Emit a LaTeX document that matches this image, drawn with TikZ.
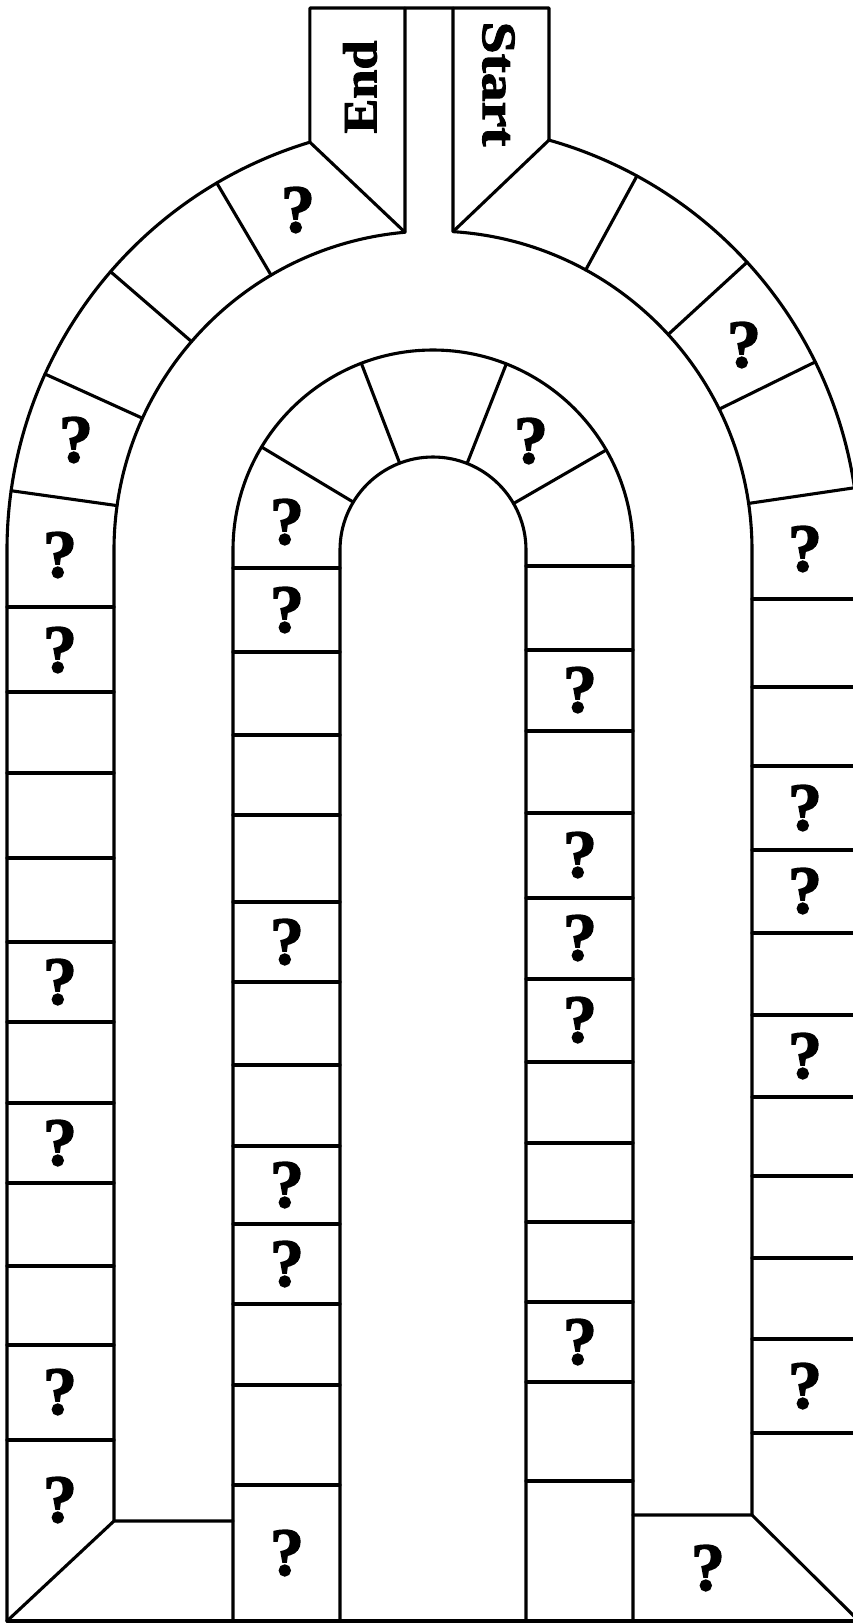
\documentclass[tikz,border=0pt]{standalone}
\usepackage{fontspec}
\setmainfont{Liberation Serif}
\newfontfamily\heavyfont{Liberation Serif}[BoldFeatures={FakeBold=2}]
\usepackage{graphicx}
\usetikzlibrary{calc}
\begin{document}
\begin{tikzpicture}[x=1pt,y=1pt,
  line/.style={line width=3.1pt, line join=round, line cap=round},
  qm/.style={font=\heavyfont\fontsize{68}{68}\selectfont\bfseries, inner sep=0pt},
  tabtext/.style={font=\heavyfont\fontsize{48}{48}\selectfont\bfseries, inner sep=0pt}]
\useasboundingbox (0,0) rectangle (853,-1623);
\fill[white] (0,0) rectangle (853,-1623);
\clip (0,0) rectangle (853,-1623);
\coordinate (C) at (433,-550);

% outer ring: outer boundary with the two tabs
\draw[line] (7,-1621) -- (7,-550) arc[start angle=180,end angle=106.8,radius=426]
  coordinate (EL) -- (309.9,-8) -- (549,-8) -- (549,-140.1) coordinate (SR)
  arc[start angle=74.2,end angle=0,radius=426] -- (859,-1621);
% outer ring: inner boundary
\draw[line] (114,-1521) -- (114,-550) arc[start angle=180,end angle=95.04,radius=319]
  coordinate (EP) -- ++(0,224.2);
\draw[line] (752,-1515) -- (752,-550) arc[start angle=0,end angle=86.4,radius=319]
  coordinate (SP) -- ++(0,223.6);
% tab diagonals
\draw[line] (EL) -- (EP);
\draw[line] (SR) -- (SP);

% inner ring
\draw[line] (233,-1621) -- (233,-550) arc[start angle=180,end angle=0,radius=200] -- (633,-1621);
\draw[line] (340,-1621) -- (340,-550) arc[start angle=180,end angle=0,radius=93] -- (526,-1621);

% bottom
\draw[line] (7,-1621) -- (859,-1621);
\draw[line] (7,-1621) -- (114,-1521) -- (233,-1521);
\draw[line] (633,-1515) -- (752,-1515) -- (859,-1621);

% radial dividers
\foreach \a in {120.5,139.2,155.6,172,61.4,42.5,26.2,8.4}
  \draw[line] ($(C)+(\a:319)$) -- ($(C)+(\a:426)$);
\foreach \a in {149,111,68.5,30}
  \draw[line] ($(C)+(\a:93)$) -- ($(C)+(\a:200)$);

% column cell lines
\foreach \y in {607,692,773,858,942,1022,1103,1183,1266,1345,1440}
  \draw[line] (7,-\y) -- (114,-\y);
\foreach \y in {599,687,766,850,933,1015,1097,1176,1258,1339,1433}
  \draw[line] (752,-\y) -- (859,-\y);
\foreach \y in {568,652,735,815,902,982,1065,1146,1224,1304,1385,1485}
  \draw[line] (233,-\y) -- (340,-\y);
\foreach \y in {566,650,731,813,898,979,1062,1143,1222,1302,1382,1481}
  \draw[line] (526,-\y) -- (633,-\y);

% tab labels
\node[tabtext, rotate=90] (endlbl) at (360,-87) {\scalebox{1.09}[1]{End}};
\node[tabtext, rotate=-90] (startlbl) at (498.5,-84) {\scalebox{1.2}[1]{Start}};

% question marks
\foreach \x/\y [count=\i] in {298/210, 76/440, 60/555, 60/650, 60/982, 60/1143, 60/1392, 60/1500,
  744/345, 805/549, 805/808, 805/891, 805/1056, 805/1386, 708/1568,
  287/522, 287/610, 287/942, 287/1185, 287/1264, 287/1553,
  531/441, 580/690, 580/855, 580/938, 580/1020, 580/1342}
  \node[qm] (q\i) at (\x,-\y) {?};
\end{tikzpicture}
\end{document}
